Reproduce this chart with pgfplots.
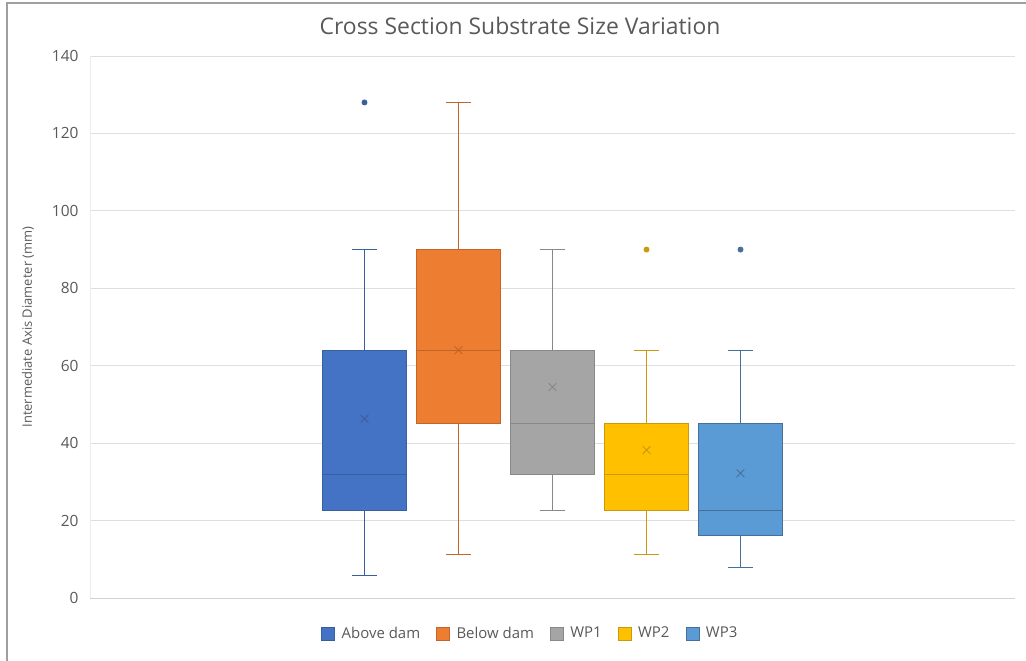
\documentclass[border=0pt]{standalone}
\usepackage{pgfplots}
\pgfplotsset{compat=1.18}
\usepgfplotslibrary{statistics}
\usepackage{fontspec}
\setmainfont{Open Sans}

\definecolor{txt}{HTML}{595959}
\definecolor{cA}{HTML}{4472C4}\definecolor{cAd}{HTML}{3A5F9E}
\definecolor{cB}{HTML}{ED7D31}\definecolor{cBd}{HTML}{C0662A}
\definecolor{cC}{HTML}{A5A5A5}\definecolor{cCd}{HTML}{888888}
\definecolor{cD}{HTML}{FFC000}\definecolor{cDd}{HTML}{C99A10}
\definecolor{cE}{HTML}{5B9BD5}\definecolor{cEd}{HTML}{46709A}

\begin{document}
\begin{tikzpicture}
\path[use as bounding box] (0bp,0bp) rectangle (1026bp,661bp);
\draw[gray!75,line width=1.3bp] (7bp,0bp) -- (7bp,658bp) -- (1026bp,658bp);
\node[font=\fontsize{23}{23}\selectfont,text=txt] at (520bp,635bp) {Cross Section Substrate Size Variation};
\begin{axis}[
  at={(90bp,63bp)},anchor=south west,
  scale only axis,width=925bp,height=542bp,
  xmin=-1.92,xmax=7.92,ymin=0,ymax=140,
  ytick={0,20,...,140},xtick=\empty,
  ymajorgrids,grid style={gray!25,line width=0.8bp},
  axis x line*=bottom,axis y line*=left,
  x axis line style={gray!35,line width=0.9bp,-},
  y axis line style={gray!15,line width=0.6bp,-},
  major tick length=0pt,
  boxplot/draw direction=y,
  /pgf/number format/assume math mode=true,
  yticklabel style={font=\fontsize{15.5}{15.5}\selectfont,text=txt,xshift=-8bp},
  ylabel={Intermediate Axis Diameter (mm)},
  every axis y label/.style={at={(axis description cs:-0.067,0.5)},rotate=90,anchor=center,
    font=\fontsize{13}{13}\selectfont,text=txt},
  legend style={at={(0.476,-0.065)},anchor=center,draw=none,fill=none,
    font=\fontsize{15}{15}\selectfont,text=txt,
    /tikz/every odd column/.append style={column sep=5bp},
    /tikz/every even column/.append style={column sep=14bp}},
  legend columns=-1,
  legend image code/.code={\draw[#1] (0bp,-6.5bp) rectangle (13bp,6.5bp);},
  clip=false]

\addlegendimage{fill=cA,draw=cAd}\addlegendentry{Above dam}
\addlegendimage{fill=cB,draw=cBd}\addlegendentry{Below dam}
\addlegendimage{fill=cC,draw=cCd}\addlegendentry{WP1}
\addlegendimage{fill=cD,draw=cDd}\addlegendentry{WP2}
\addlegendimage{fill=cE,draw=cEd}\addlegendentry{WP3}

\addplot[boxplot prepared={draw position=1,lower whisker=5.7,lower quartile=22.6,
  median=32,upper quartile=64,upper whisker=90,box extend=0.9,whisker extend=0.27},
  fill=cA,draw=cAd,line width=0.9bp,mark=*,mark size=2.5bp,mark options={fill=cAd,draw=cAd},
  forget plot] coordinates {(1,128)};
\addplot[boxplot prepared={draw position=2,lower whisker=11.3,lower quartile=45,
  median=64,upper quartile=90,upper whisker=128,box extend=0.9,whisker extend=0.27},
  fill=cB,draw=cBd,line width=0.9bp,forget plot] coordinates {};
\addplot[boxplot prepared={draw position=3,lower whisker=22.6,lower quartile=32,
  median=45,upper quartile=64,upper whisker=90,box extend=0.9,whisker extend=0.27},
  fill=cC,draw=cCd,line width=0.9bp,forget plot] coordinates {};
\addplot[boxplot prepared={draw position=4,lower whisker=11.3,lower quartile=22.6,
  median=32,upper quartile=45,upper whisker=64,box extend=0.9,whisker extend=0.27},
  fill=cD,draw=cDd,line width=0.9bp,mark=*,mark size=2.5bp,mark options={fill=cDd,draw=cDd},
  forget plot] coordinates {(4,90)};
\addplot[boxplot prepared={draw position=5,lower whisker=8,lower quartile=16.2,
  median=22.6,upper quartile=45,upper whisker=64,box extend=0.9,whisker extend=0.27},
  fill=cE,draw=cEd,line width=0.9bp,mark=*,mark size=2.5bp,mark options={fill=cEd,draw=cEd},
  forget plot] coordinates {(5,90)};

% means
\addplot[only marks,mark=x,mark size=5.5bp,draw=cAd,line width=0.9bp,forget plot] coordinates {(1,46.3)};
\addplot[only marks,mark=x,mark size=5.5bp,draw=cBd,line width=0.9bp,forget plot] coordinates {(2,64)};
\addplot[only marks,mark=x,mark size=5.5bp,draw=cCd,line width=0.9bp,forget plot] coordinates {(3,54.5)};
\addplot[only marks,mark=x,mark size=5.5bp,draw=cDd,line width=0.9bp,forget plot] coordinates {(4,38.2)};
\addplot[only marks,mark=x,mark size=5.5bp,draw=cEd,line width=0.9bp,forget plot] coordinates {(5,32.2)};
\end{axis}
\end{tikzpicture}
\end{document}
